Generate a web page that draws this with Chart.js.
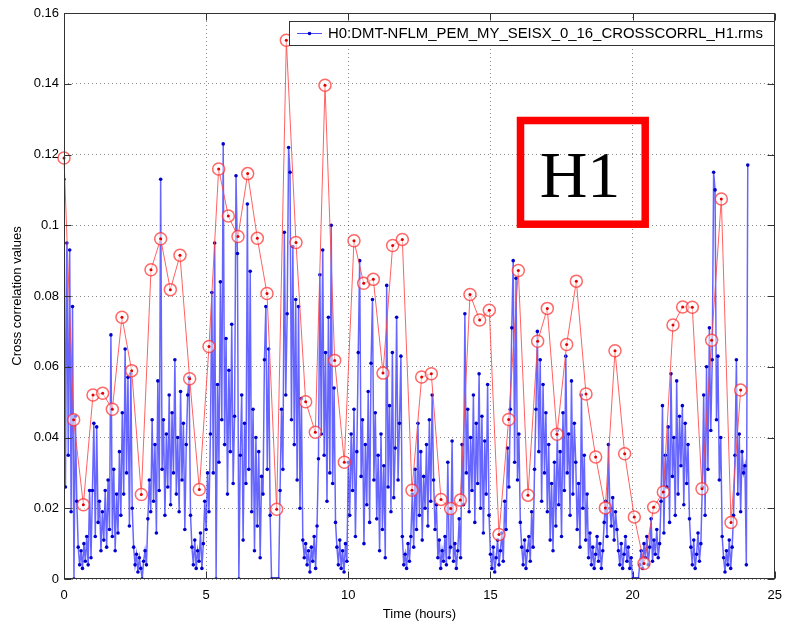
<!DOCTYPE html>
<html>
<head>
<meta charset="utf-8">
<script src="https://cdn.jsdelivr.net/npm/chart.js@4"></script>
<style>
 html, body { margin: 0; padding: 0; background: #fff; }
 #wrap { width: 791px; height: 626px; }
</style>
</head>
<body>
<div id="wrap"><canvas id="corr-canvas" width="791" height="626"></canvas></div>
<script>
// sample spacing of the blue trace (hours) and of the red trace
var blueStep = 0.05;
var redStep = 0.34;

// blue trace, one row per hour (20 samples / hour)
var blueValues = [
 0.113, 0.026, 0.095, 0.035, 0.093, 0.019, 0.077, 0.0, 0.046, 0.022, 0.009, 0.004, 0.008, 0.003, 0.010, 0.005, 0.012, 0.004, 0.025, 0.006,
 0.025, 0.044, 0.012, 0.043, 0.016, 0.022, 0.008, 0.019, 0.011, 0.025, 0.009, 0.028, 0.014, 0.069, 0.012, 0.031, 0.008, 0.024, 0.013, 0.036,
 0.018, 0.047, 0.024, 0.065, 0.030, 0.057, 0.015, 0.058, 0.020, 0.009, 0.004, 0.007, 0.002, 0.006, 0.003, 0.0, 0.005, 0.008, 0.004, 0.017,
 0.028, 0.019, 0.045, 0.022, 0.038, 0.013, 0.056, 0.025, 0.113, 0.031, 0.045, 0.018, 0.041, 0.026, 0.052, 0.021, 0.047, 0.030, 0.062, 0.024,
 0.040, 0.019, 0.053, 0.028, 0.044, 0.014, 0.038, 0.052, 0.057, 0.018, 0.009, 0.004, 0.011, 0.003, 0.008, 0.005, 0.013, 0.003, 0.010, 0.022,
 0.014, 0.030, 0.019, 0.041, 0.081, 0.030, 0.095, 0.0, 0.055, 0.033, 0.084, 0.045, 0.123, 0.038, 0.068, 0.024, 0.059, 0.036, 0.072, 0.027,
 0.046, 0.114, 0.092, 0.0, 0.035, 0.052, 0.011, 0.044, 0.027, 0.106, 0.031, 0.087, 0.019, 0.048, 0.008, 0.040, 0.015, 0.036, 0.006, 0.029,
 0.024, 0.062, 0.077, 0.031, 0.065, 0.018, 0.0, 0.0, 0.0, 0.0, 0.0, 0.0, 0.025, 0.048, 0.031, 0.098, 0.052, 0.075, 0.122, 0.115,
 0.045, 0.094, 0.038, 0.079, 0.028, 0.077, 0.020, 0.051, 0.011, 0.006, 0.010, 0.004, 0.008, 0.002, 0.009, 0.005, 0.012, 0.003, 0.015, 0.034,
 0.086, 0.041, 0.093, 0.035, 0.064, 0.022, 0.074, 0.030, 0.100, 0.027, 0.054, 0.016, 0.009, 0.004, 0.011, 0.003, 0.008, 0.002, 0.010, 0.005,
 0.033, 0.018, 0.041, 0.025, 0.048, 0.012, 0.036, 0.064, 0.090, 0.029, 0.045, 0.010, 0.038, 0.021, 0.053, 0.016, 0.061, 0.079, 0.028, 0.047,
 0.017, 0.035, 0.008, 0.041, 0.014, 0.032, 0.006, 0.083, 0.026, 0.049, 0.019, 0.064, 0.023, 0.037, 0.074, 0.028, 0.044, 0.063, 0.012, 0.004,
 0.007, 0.003, 0.010, 0.005, 0.012, 0.024, 0.009, 0.031, 0.014, 0.044, 0.018, 0.036, 0.011, 0.029, 0.020, 0.038, 0.015, 0.045, 0.022, 0.052,
 0.028, 0.014, 0.021, 0.006, 0.011, 0.003, 0.008, 0.005, 0.012, 0.004, 0.033, 0.006, 0.009, 0.039, 0.005, 0.010, 0.003, 0.008, 0.017, 0.006,
 0.038, 0.021, 0.075, 0.030, 0.048, 0.019, 0.040, 0.025, 0.052, 0.016, 0.044, 0.027, 0.058, 0.020, 0.046, 0.013, 0.039, 0.024, 0.055, 0.018,
 0.007, 0.003, 0.009, 0.002, 0.006, 0.011, 0.004, 0.008, 0.013, 0.005, 0.022, 0.014, 0.037, 0.026, 0.048, 0.071, 0.090, 0.033, 0.085, 0.028,
 0.041, 0.016, 0.009, 0.004, 0.011, 0.003, 0.008, 0.012, 0.005, 0.019, 0.009, 0.031, 0.048, 0.070, 0.036, 0.062, 0.022, 0.055, 0.030, 0.047,
 0.019, 0.038, 0.011, 0.027, 0.008, 0.033, 0.015, 0.042, 0.021, 0.036, 0.012, 0.047, 0.025, 0.063, 0.030, 0.041, 0.018, 0.056, 0.024, 0.044,
 0.033, 0.014, 0.027, 0.009, 0.052, 0.020, 0.035, 0.011, 0.024, 0.006, 0.013, 0.004, 0.009, 0.003, 0.007, 0.012, 0.005, 0.010, 0.003, 0.008,
 0.016, 0.022, 0.012, 0.038, 0.020, 0.015, 0.023, 0.011, 0.019, 0.014, 0.008, 0.004, 0.010, 0.003, 0.007, 0.012, 0.005, 0.009, 0.003, 0.006,
 0.0, 0.0, 0.0, 0.0, 0.0, 0.004, 0.008, 0.003, 0.010, 0.006, 0.012, 0.004, 0.009, 0.017, 0.005, 0.011, 0.007, 0.014, 0.006, 0.010,
 0.022, 0.049, 0.013, 0.035, 0.026, 0.043, 0.016, 0.058, 0.029, 0.040, 0.018, 0.056, 0.024, 0.046, 0.032, 0.049, 0.021, 0.044, 0.027, 0.038,
 0.017, 0.009, 0.004, 0.011, 0.003, 0.007, 0.013, 0.005, 0.010, 0.026, 0.052, 0.018, 0.060, 0.031, 0.071, 0.042, 0.062, 0.115, 0.110, 0.045,
 0.063, 0.028, 0.040, 0.012, 0.006, 0.002, 0.008, 0.004, 0.011, 0.003, 0.009, 0.018, 0.035, 0.062, 0.024, 0.041, 0.019, 0.036, 0.030, 0.032,
 0.004, 0.117
];

// red trace (circled points)
var redValues = [
 0.119, 0.045, 0.021, 0.052, 0.0525, 0.048, 0.074, 0.0589, 0.0239, 0.0874,
 0.0962, 0.0818, 0.0915, 0.0566, 0.0253, 0.0657, 0.1159, 0.1026, 0.0968, 0.1146,
 0.0963, 0.0807, 0.0197, 0.1523, 0.0951, 0.0501, 0.0415, 0.1396, 0.0618, 0.033,
 0.0956, 0.0836, 0.0847, 0.0582, 0.0943, 0.096, 0.0251, 0.0571, 0.058, 0.0225,
 0.0199, 0.0223, 0.0804, 0.0732, 0.076, 0.0126, 0.0451, 0.0872, 0.0237, 0.0672,
 0.0765, 0.0409, 0.0663, 0.0842, 0.0523, 0.0345, 0.0201, 0.0645, 0.0354, 0.0175,
 0.0044, 0.0203, 0.0246, 0.0718, 0.0769, 0.0768, 0.0255, 0.0675, 0.1074, 0.016,
 0.0534
];

var xTickLabels = ["0", "5", "10", "15", "20", "25"];
var yTickLabels = ["0", "0.02", "0.04", "0.06", "0.08", "0.1", "0.12", "0.14", "0.16"];

var legendText = "H0:DMT-NFLM_PEM_MY_SEISX_0_16_CROSSCORRL_H1.rms";
var sansFont = "'Liberation Sans', Arial, Helvetica, sans-serif";

var bluePoints = blueValues.map(function (v, i) {
 return { x: i * blueStep, y: v };
});
var redPoints = redValues.map(function (v, i) {
 return { x: i * redStep, y: v };
});

// frame, inward ticks, legend box and the H1 label
var decorPlugin = {
 id: "decor",
 afterDatasetsDraw: function (chart) {
  var ctx = chart.ctx;
  var a = chart.chartArea;
  var xs = chart.scales.x;
  var ys = chart.scales.y;
  var L = Math.round(a.left) + 0.5, R = Math.round(a.right) - 0.5;
  var T = Math.round(a.top) + 0.5, B = Math.round(a.bottom) - 0.5;
  ctx.save();
  ctx.strokeStyle = "#333";
  ctx.lineWidth = 1;
  ctx.strokeRect(L, T, R - L, B - T);

  ctx.beginPath();
  xs.ticks.forEach(function (t) {
   var px = Math.round(xs.getPixelForValue(t.value)) + 0.5;
   ctx.moveTo(px, B); ctx.lineTo(px, B - 7);
   ctx.moveTo(px, T); ctx.lineTo(px, T + 7);
  });
  ys.ticks.forEach(function (t) {
   var py = Math.round(ys.getPixelForValue(t.value)) + 0.5;
   ctx.moveTo(L, py); ctx.lineTo(L + 7, py);
   ctx.moveTo(R, py); ctx.lineTo(R - 7, py);
  });
  ctx.stroke();

  // legend
  ctx.fillStyle = "#fff";
  ctx.fillRect(289.5, 21.5, 485, 24);
  ctx.strokeStyle = "#333";
  ctx.strokeRect(289.5, 21.5, 485, 24);
  ctx.strokeStyle = "rgba(0,0,255,0.7)";
  ctx.beginPath();
  ctx.moveTo(297, 33.5); ctx.lineTo(322, 33.5);
  ctx.stroke();
  ctx.fillStyle = "#0000cc";
  ctx.beginPath();
  ctx.arc(309.5, 33.5, 1.8, 0, Math.PI * 2);
  ctx.fill();

  var size = 14;
  ctx.font = size + "px " + sansFont;
  var w = ctx.measureText(legendText).width;
  size = size * 435 / w;
  ctx.font = size.toFixed(2) + "px " + sansFont;
  ctx.fillStyle = "#000";
  ctx.textBaseline = "middle";
  ctx.textAlign = "left";
  ctx.fillText(legendText, 328, 34);

  // H1 box
  ctx.strokeStyle = "#ff0000";
  ctx.lineWidth = 7.5;
  ctx.strokeRect(520.5, 120.5, 124.7, 103.7);
  ctx.fillStyle = "#000";
  ctx.font = "66px 'Liberation Serif', 'Times New Roman', serif";
  ctx.textAlign = "center";
  ctx.textBaseline = "alphabetic";
  ctx.fillText("H1", 580, 197);
  ctx.restore();
 },
};

var ctx = document.getElementById("corr-canvas");

new Chart(ctx, {
 type: "line",
 data: {
  datasets: [
   {
    label: "red dots",
    data: redPoints,
    showLine: false,
    pointRadius: 1.5,
    pointBorderWidth: 0,
    pointBackgroundColor: "#e00000",
    clip: false,
    order: 0,
   },
   {
    label: "red",
    data: redPoints,
    borderColor: "rgba(255,70,70,0.85)",
    borderWidth: 1,
    pointRadius: 6,
    pointBorderWidth: 1.5,
    pointBorderColor: "rgba(255,40,40,0.7)",
    pointBackgroundColor: "rgba(255,255,255,0.5)",
    tension: 0,
    clip: false,
    order: 1,
   },
   {
    label: legendText,
    data: bluePoints,
    borderColor: "rgba(0,0,255,0.6)",
    borderWidth: 1.5,
    pointRadius: 1.8,
    pointBorderWidth: 0,
    pointBackgroundColor: "#0000cc",
    tension: 0,
    order: 2,
   },
  ],
 },
 options: {
  responsive: false,
  animation: false,
  events: [],
  layout: { padding: { left: 0, top: 13, right: 12, bottom: 0 } },
  plugins: {
   legend: { display: false },
   tooltip: { enabled: false },
  },
  scales: {
   x: {
    type: "linear",
    min: 0,
    max: 25,
    afterFit: function (scale) {
     scale.height = 47;
    },
    ticks: {
     stepSize: 5,
     padding: 9,
     maxRotation: 0,
     autoSkip: false,
     color: "#000",
     font: { family: sansFont, size: 13 },
     callback: function (value, index) {
      return xTickLabels[index];
     },
    },
    grid: { color: "rgba(0,0,0,0.45)", lineWidth: 1, drawTicks: false },
    border: { display: false, dash: [1, 3] },
    title: {
     display: true,
     text: "Time (hours)",
     color: "#000",
     font: { family: sansFont, size: 13 },
     padding: { top: 0, bottom: 4 },
    },
   },
   y: {
    min: 0,
    max: 0.16,
    afterFit: function (scale) {
     scale.width = 64;
    },
    ticks: {
     stepSize: 0.02,
     padding: 5,
     color: "#000",
     font: { family: sansFont, size: 13 },
     callback: function (value, index) {
      return yTickLabels[index];
     },
    },
    grid: { color: "rgba(0,0,0,0.45)", lineWidth: 1, drawTicks: false },
    border: { display: false, dash: [1, 3] },
    title: {
     display: true,
     text: "Cross correlation values",
     color: "#000",
     font: { family: sansFont, size: 13 },
     padding: { top: 10, bottom: 0 },
    },
   },
  },
 },
 plugins: [decorPlugin],
});
</script>
</body>
</html>
